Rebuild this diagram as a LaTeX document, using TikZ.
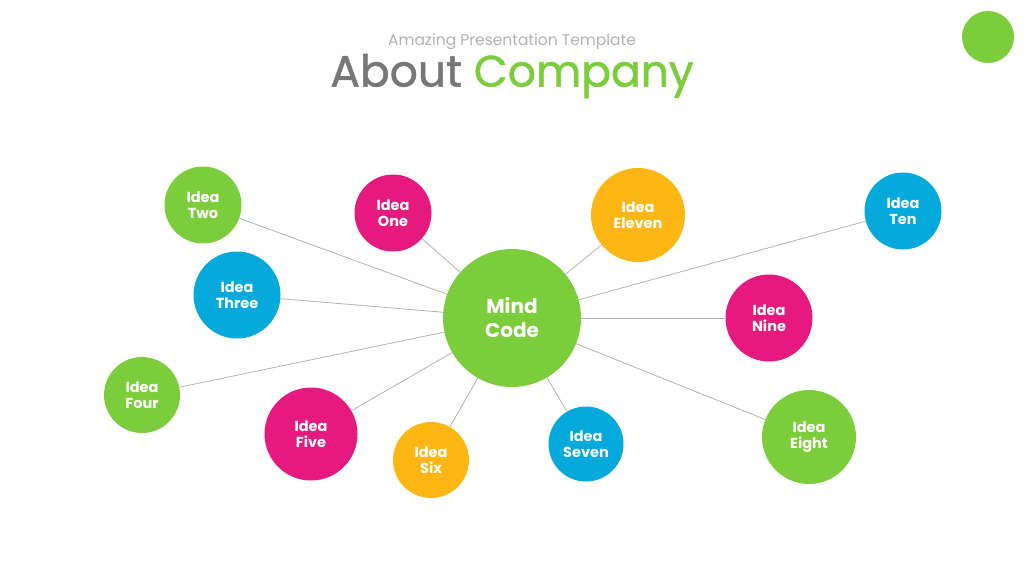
\documentclass[tikz,border=0pt]{standalone}
\usepackage{fontspec}
\setmainfont{Poppins}
\usepackage{xcolor}
\usepackage{tikz}
\definecolor{ideagreen}{HTML}{7BCD3B}
\definecolor{ideapink}{HTML}{E5197E}
\definecolor{ideablue}{HTML}{05A9DC}
\definecolor{ideaorange}{HTML}{FDB614}
\definecolor{titlegray}{HTML}{777777}
\tikzset{
	idea node/.style={circle,inner sep=0pt,text=white,align=center,
		font=\fontsize{14.5}{16}\selectfont\bfseries},
	mind node/.style={circle,inner sep=0pt,fill=ideagreen,text=white,align=center,
		minimum size=138pt,font=\fontsize{20}{24}\selectfont\bfseries},
	link/.style={draw=black!30,line width=0.8pt}
}

\begin{document}
\begin{tikzpicture}[x=1pt,y=-1pt]
	\useasboundingbox (0,0) rectangle (1024,576);
	% title
	\node [text=black!30,font=\fontsize{15.5}{18}\selectfont] (sub) at (512,42) {Amazing Presentation Template};
	\node [font=\fontsize{44}{48}\selectfont\addfontfeatures{FakeBold=1.2}] (title) at (512,76) {\textcolor{titlegray}{About} \textcolor{ideagreen}{Company}};
	\node [circle,fill=ideagreen,minimum size=52pt,inner sep=0pt] (dot) at (988,37) {};
	% mind map
	\node [mind node] (m) at (512,318) {Mind\\Code};
	\node [idea node,fill=ideapink,minimum size=77pt] (i1) at (393,213) {Idea\\One};
	\node [idea node,fill=ideagreen,minimum size=77pt] (i2) at (203,205) {Idea\\Two};
	\node [idea node,fill=ideablue,minimum size=87pt] (i3) at (237,295) {Idea\\Three};
	\node [idea node,fill=ideagreen,minimum size=76pt] (i4) at (142,395) {Idea\\Four};
	\node [idea node,fill=ideapink,minimum size=93pt] (i5) at (311,434) {Idea\\Five};
	\node [idea node,fill=ideaorange,minimum size=76pt] (i6) at (431,460) {Idea\\Six};
	\node [idea node,fill=ideablue,minimum size=75pt] (i7) at (586,444) {Idea\\Seven};
	\node [idea node,fill=ideagreen,minimum size=94pt] (i8) at (809,437) {Idea\\Eight};
	\node [idea node,fill=ideapink,minimum size=87pt] (i9) at (769,318) {Idea\\Nine};
	\node [idea node,fill=ideablue,minimum size=77pt] (i10) at (903,211) {Idea\\Ten};
	\node [idea node,fill=ideaorange,minimum size=94pt] (i11) at (638,215) {Idea\\Eleven};
	\foreach \i in {1,...,11}
		\draw [link] (m) -- (i\i);
\end{tikzpicture}
\end{document}
